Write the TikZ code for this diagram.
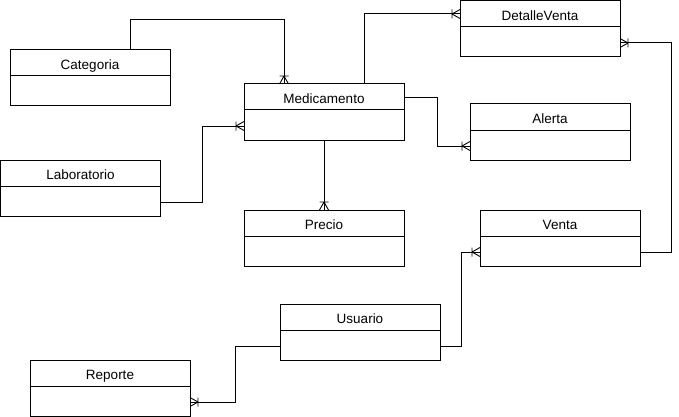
\documentclass[tikz,border=0pt]{standalone}
\usepackage{fontspec}
\setmainfont{Liberation Sans}
\usetikzlibrary{decorations.markings}
\tikzset{
  entity/.style={draw, line width=1pt, rectangle, minimum width=160pt, minimum height=56pt, inner sep=0pt, outer sep=0pt},
  title/.style={font=\fontsize{13.5}{16}\selectfont, inner sep=0pt, anchor=base},
  conn/.style={line width=1pt},
  crow/.style={conn, postaction={decorate}, decoration={markings, mark=at position 1 with {
      \draw[line width=0.9pt] (-8pt,0) -- (0,4.5pt) (-8pt,0) -- (0,-4.5pt) (-8pt,4.5pt) -- (-8pt,-4.5pt);}}}
}
\newcommand\entbox[4]{%
  \node[entity] (#1) at ({#2+80},{#3+28}) {};
  \draw[line width=1pt] ([yshift=-26pt]#1.north west) -- ([yshift=-26pt]#1.north east);
  \node[title] at ([yshift=-19.3pt]#1.north) {#4};}
\begin{document}
\begin{tikzpicture}[x=1pt,y=-1pt]
\useasboundingbox (0,0) rectangle (679,417);
\entbox{cat}{10}{50}{Categoria}
\entbox{med}{244}{84}{Medicamento}
\entbox{dv}{460}{1}{DetalleVenta}
\entbox{al}{470}{104}{Alerta}
\entbox{lab}{0.5}{160}{Laboratorio}
\entbox{pr}{244}{210}{Precio}
\entbox{ve}{480}{210}{Venta}
\entbox{us}{280}{304}{Usuario}
\entbox{rep}{30}{360}{Reporte}
% Categoria -> Medicamento
\draw[crow] ([xshift=40pt]cat.north) |- (284,20) -- ([xshift=-40pt]med.north);
% Medicamento -> DetalleVenta
\draw[crow] ([xshift=40pt]med.north) |- ([yshift=15pt]dv.west);
% Medicamento -> Alerta
\draw[crow] ([yshift=14pt]med.east) -- ([yshift=14pt]med.east -| 437,0) |- ([yshift=-14pt]al.west);
% Venta -> DetalleVenta
\draw[crow] ([yshift=-14pt]ve.east) -- ([yshift=-14pt]ve.east -| 671,0) |- ([yshift=-14pt]dv.east);
% Laboratorio -> Medicamento
\draw[crow] ([yshift=-14pt]lab.east) -- ([yshift=-14pt]lab.east -| 202,0) |- ([yshift=-14pt]med.west);
% Medicamento -> Precio
\draw[crow] (med.south) -- (pr.north);
% Usuario -> Venta
\draw[crow] ([yshift=-14pt]us.east) -- ([yshift=-14pt]us.east -| 461,0) |- ([yshift=-14pt]ve.west);
% Usuario -> Reporte
\draw[crow] ([yshift=-14pt]us.west) -- ([yshift=-14pt]us.west -| 235,0) |- ([yshift=-14pt]rep.east);
\end{tikzpicture}
\end{document}
